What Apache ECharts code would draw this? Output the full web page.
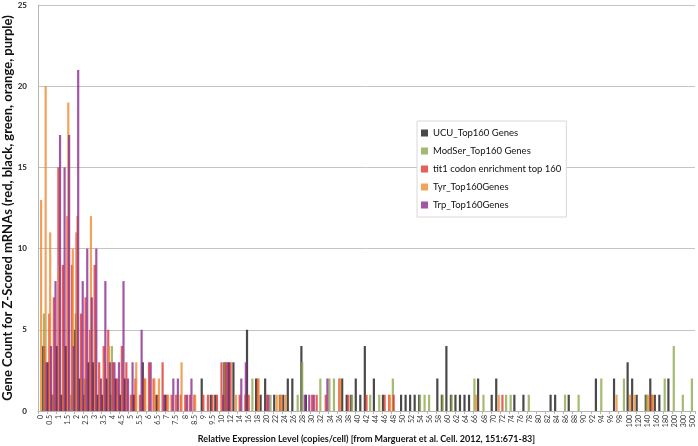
<!DOCTYPE html>
<html>
<head>
<meta charset="utf-8">
<script src="https://cdn.jsdelivr.net/npm/echarts@6/dist/echarts.min.js"></script>
<style>
html,body{margin:0;padding:0;background:#fff;}
#chart{width:698px;height:446px;}
</style>
</head>
<body>
<div id="chart"></div>
<script>
var categories = ['0','0.25','0.5','0.75','1','1.25','1.5','1.75','2','2.25','2.5','2.75','3','3.25','3.5','3.75','4','4.25','4.5','4.75','5','5.25','5.5','5.75','6','6.25','6.5','6.75','7','7.25','7.5','7.75','8','8.25','8.5','8.75','9','9.25','9.5','9.75','10',
'11','12','13','14','15','16','17','18','19','20','21','22','23','24','25','26','27','28','29','30','31','32','33','34','35','36','37','38','39','40','41','42','43','44','45','46','47','48','49','50','51','52','53','54','55','56','57','58','59','60','61','62','63','64','65','66','67','68','69','70','71','72','73','74','75','76','77','78','79','80','81','82','83','84','85','86','87','88','89','90','91','92','93','94','95','96','97','98','99','100',
'110','120','130','140','150','160','170','180','190','200','250','300','400','500'];

var seriesNames = ['UCU_Top160 Genes','ModSer_Top160 Genes','tit1 codon enrichment top 160','Tyr_Top160Genes','Trp_Top160Genes'];

var ucu = [0,4,3,1,4,1,4,0,5,2, 1,3,3,1,1,2,1,2,1,2, 0,1,0,3,0,0,1,0,1,0, 0,0,0,0,0,0,2,0,1,1,
0,3,3,3,0,0,5,0,2,1, 2,0,1,0,1,2,2,0,4,1, 0,0,0,0,0,0,0,2,1,1, 2,1,4,0,2,0,1,0,0,0,
1,1,1,1,1,0,0,0,2,1, 4,1,1,1,1,1,0,2,0,0, 1,2,0,0,0,1,0,1,0,0, 0,0,0,1,1,0,0,1,0,0,
0,0,0,2,0,0,0,2,0,0, 3,2,1,0,1,2,1,1,0,2, 0,0,0,0,0];
var modser = [0,6,0,1,0,0,0,1,6,0, 2,0,0,0,0,0,4,0,0,0, 0,0,0,0,0,0,0,0,0,0, 0,0,0,0,0,0,0,0,0,0,
0,3,0,0,0,0,0,2,0,0, 0,1,0,1,0,0,0,1,3,0, 0,0,2,0,2,2,0,0,0,1, 0,0,0,1,0,1,0,0,2,0,
0,0,0,0,1,1,1,0,0,1, 0,1,0,0,0,0,2,0,1,0, 0,0,0,1,1,0,0,0,1,0, 0,0,0,0,0,0,1,0,0,1,
0,0,0,0,2,0,0,0,0,2, 0,0,0,0,1,0,0,0,2,0, 4,0,1,0,2];
var tit1 = [0,4,6,7,15,9,12,9,11,6, 7,5,9,3,4,5,3,2,4,3, 1,2,1,2,3,2,1,3,1,1, 1,1,1,1,1,0,1,1,1,1,
3,3,3,0,1,0,1,0,2,0, 1,0,0,1,0,0,0,0,0,0, 1,1,0,1,0,0,2,0,1,0, 0,0,1,0,0,0,1,1,1,0,
0,0,0,0,0,0,0,0,0,0, 0,0,0,0,0,0,0,0,0,0, 0,0,1,0,0,0,0,0,0,0, 0,0,0,0,0,0,0,0,0,0,
0,0,0,0,0,0,0,0,0,0, 0,0,0,0,0,1,0,0,0,0, 0,0,0,0,0];
var tyr = [13,20,11,0,9,4,19,10,12,2, 0,12,5,2,3,4,0,1,2,0, 1,3,0,2,0,2,2,0,1,0, 1,3,0,0,1,0,0,0,0,0,
1,0,0,1,0,1,0,0,2,0, 0,0,1,1,1,0,0,0,0,0, 0,0,0,0,0,0,2,0,0,0, 0,0,0,0,0,0,0,1,0,0,
0,0,0,0,0,0,0,0,0,0, 0,0,0,0,0,0,1,0,0,0, 0,1,0,0,0,0,0,0,0,0, 0,0,0,0,0,0,0,0,0,0,
0,0,0,0,0,0,0,1,0,0, 1,1,0,0,1,1,0,0,0,0, 0,0,0,0,0];
var trp = [0,3,4,8,17,15,17,4,21,8, 10,7,10,2,8,3,3,3,8,2, 3,0,5,0,3,0,0,1,0,2, 2,0,1,2,0,0,0,0,0,0,
1,3,0,0,2,3,0,0,0,0, 1,0,0,0,0,0,0,0,1,1, 1,0,0,2,0,0,0,0,0,0, 0,0,0,0,0,0,0,0,0,0,
0,0,0,0,0,0,0,0,0,0, 0,0,0,0,0,0,0,0,0,0, 0,0,0,0,0,0,0,0,0,0, 0,0,0,0,0,0,0,0,0,0,
0,0,0,0,0,0,0,0,0,0, 0,0,0,0,0,0,0,0,0,0, 0,0,0,0,0];

var colors = ['#1e1a1a','#8da84e','#e2362e','#ee8c34','#8b2c8e'];
var values = [ucu, modser, tit1, tyr, trp];

var chart = echarts.init(document.getElementById('chart'), null, {renderer:'canvas'});
var font = 'Lato, "Open Sans", sans-serif';
var series = seriesNames.map(function(n, i){
  return {
    name: n, type: 'bar', data: values[i],
    barWidth: 2.2, barGap: '-62%',
    itemStyle: {color: colors[i], opacity: 0.8},
    emphasis: {disabled: true},
    animation: false
  };
});
chart.setOption({
  animation: false,
  color: colors,
  grid: {left: 38, right: 3, top: 5, bottom: 35, containLabel: false, outerBoundsMode: 'none'},
  legend: {
    orient: 'vertical', left: 417, top: 121,
    backgroundColor: '#fff', borderColor: '#d8d8d8', borderWidth: 1,
    padding: [5, 5, 5, 4],
    itemWidth: 7, itemHeight: 7, itemGap: 4,
    icon: 'rect',
    textStyle: {fontFamily: font, fontSize: 9.5, color: '#111', lineHeight: 14},
    data: seriesNames
  },
  xAxis: {
    type: 'category', data: categories,
    axisLine: {lineStyle: {color: '#b5b5b5'}},
    axisTick: {show: true, interval: 1, length: 3, lineStyle: {color: '#b5b5b5'}},
    axisLabel: {interval: 1, rotate: 90, fontSize: 7, color: '#333', fontFamily: font, margin: 4},
    name: 'Relative Expression Level (copies/cell) [from Marguerat et al. Cell. 2012, 151:671-83]',
    nameLocation: 'middle', nameGap: 24, nameMoveOverlap: false,
    nameTextStyle: {fontFamily: font, fontSize: 9, fontWeight: 'bold', color: '#111'}
  },
  yAxis: {
    type: 'value', min: 0, max: 25, interval: 5,
    axisLine: {show: true, lineStyle: {color: '#b5b5b5'}},
    axisTick: {show: false},
    splitLine: {lineStyle: {color: '#c4c4c4'}},
    axisLabel: {fontSize: 8, color: '#222', fontFamily: font, fontWeight: 'bold', margin: 11},
    name: 'Gene Count for Z-Scored mRNAs (red, black, green, orange, purple)',
    nameLocation: 'middle', nameGap: 24, nameMoveOverlap: false,
    nameTextStyle: {fontFamily: font, fontSize: 13, fontWeight: 'bold', color: '#111'}
  },
  series: series
});
</script>
</body>
</html>
